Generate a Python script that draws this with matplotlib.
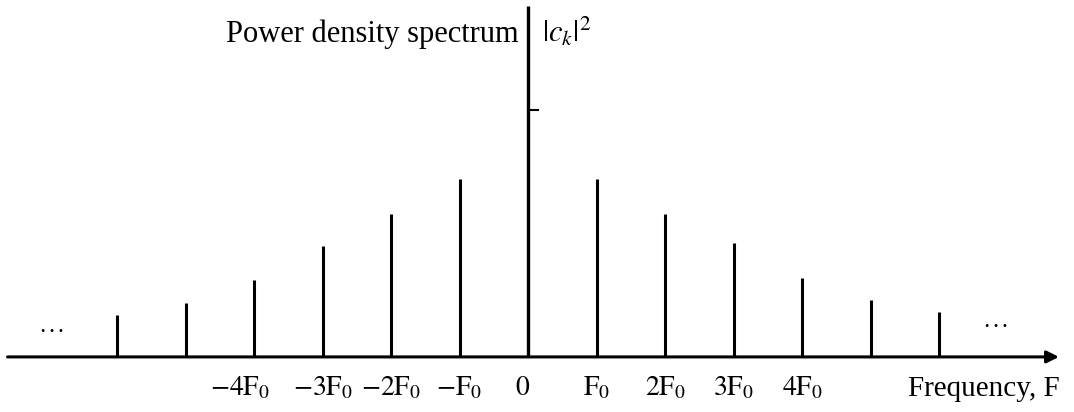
import matplotlib
matplotlib.use("Agg")
import matplotlib.pyplot as plt

plt.rcParams['font.family'] = ['Liberation Serif', 'DejaVu Serif']
plt.rcParams['mathtext.fontset'] = 'stix'

# harmonic index k (in units of F0) and line heights |c_k|^2
harmonics = [-6, -5, -4, -3, -2, -1, 1, 2, 3, 4, 5, 6]
power = [0.17, 0.22, 0.31, 0.45, 0.58, 0.72, 0.72, 0.58, 0.46, 0.32, 0.23, 0.18]
dc_level = 1.0
tick_pos = [-4, -3, -2, -1, 0, 1, 2, 3, 4]
tick_text = [r'$-4\mathrm{F}_0$', r'$-3\mathrm{F}_0$', r'$-2\mathrm{F}_0$',
             r'$-\mathrm{F}_0$', r'$0$', r'$\mathrm{F}_0$', r'$2\mathrm{F}_0$',
             r'$3\mathrm{F}_0$', r'$4\mathrm{F}_0$']
# small horizontal nudges for a couple of labels
nudge = {-4: -0.2, 0: -0.08}

fig = plt.figure(figsize=(10.74, 4.12), dpi=100)
ax = fig.add_axes([0, 0, 1, 1])
ax.set_xlim(-7.71, 7.97)
ax.set_ylim(-0.223, 1.445)
ax.axis('off')

# spectral lines
ax.vlines(harmonics, 0, power, colors='black', linewidth=2.2)

# frequency axis with arrow
ax.annotate('', xy=(7.75, 0), xytext=(-7.6, 0),
            arrowprops=dict(arrowstyle='-|>', color='black', lw=2.2,
                            mutation_scale=18, shrinkA=0, shrinkB=0))
# vertical axis and marker for the dc level
ax.vlines(0, 0, 1.42, colors='black', linewidth=2.4)
ax.plot([0, 0.15], [dc_level, dc_level], color='black', linewidth=1.5)

for x, t in zip(tick_pos, tick_text):
    ax.text(x + nudge.get(x, 0), -0.155, t, ha='center', va='baseline',
            fontsize=20)

ax.text(5.55, -0.158, 'Frequency, F', ha='left', va='baseline', fontsize=21)
ax.text(-0.14, 1.275, 'Power density spectrum', ha='right', va='baseline',
        fontsize=22)
ax.text(0.2, 1.275, r'$|c_k|^2$', ha='left', va='baseline', fontsize=22)
# continuation dots on both sides
ax.text(-6.95, 0.12, '. . .', ha='center', va='center', fontsize=13,
        fontweight='bold')
ax.text(6.83, 0.138, '. . .', ha='center', va='center', fontsize=13,
        fontweight='bold')

fig.savefig('out.png', dpi=100)
